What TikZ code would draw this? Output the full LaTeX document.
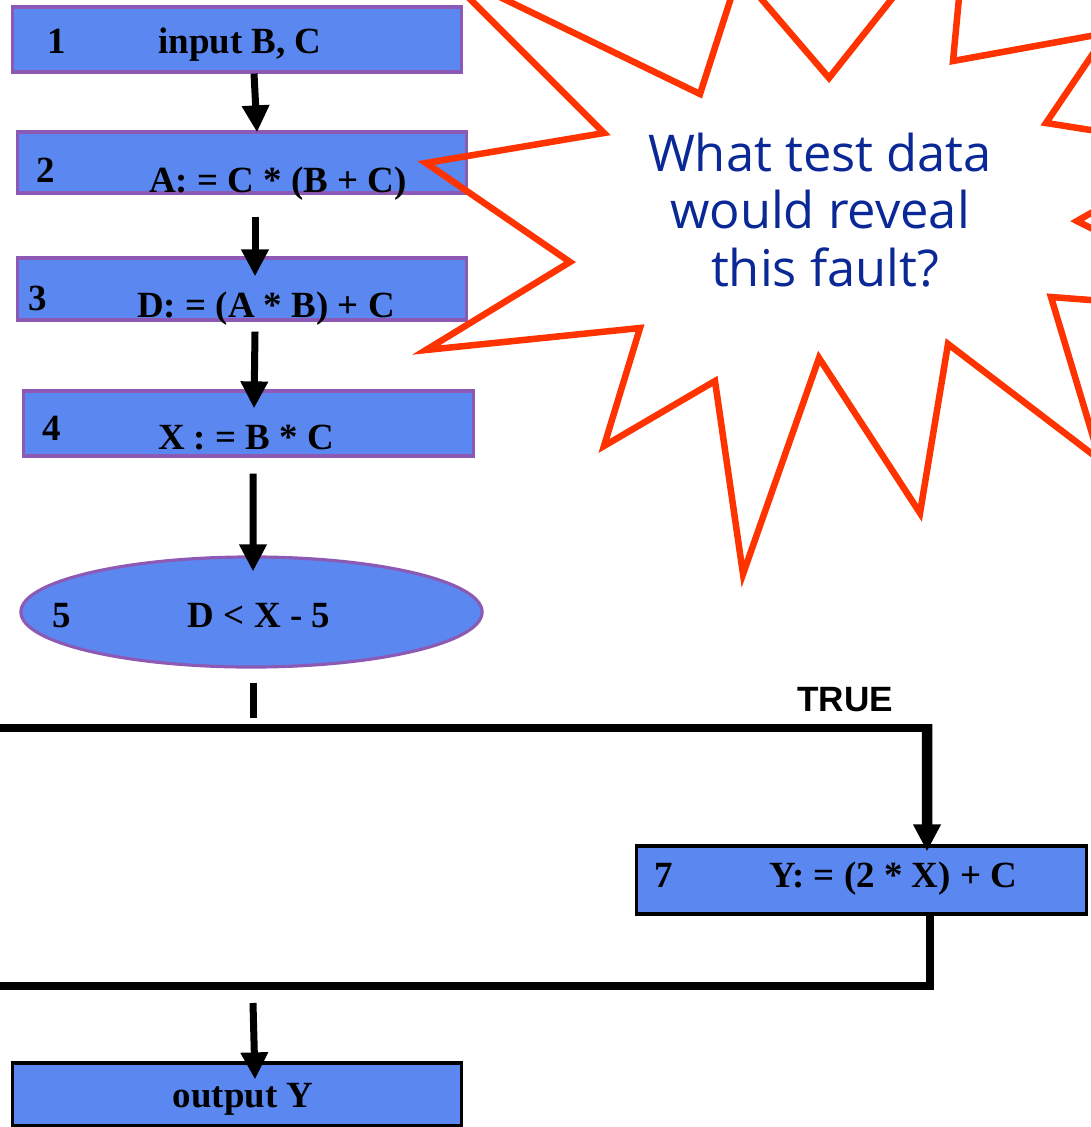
\documentclass[tikz,border=0pt]{standalone}
\usepackage{fontspec}
\setmainfont{Liberation Serif}
\newfontfamily\labelsans{Liberation Sans}
\newfontfamily\bubblefont{Open Sans}
\usetikzlibrary{arrows.meta,shapes.geometric}

\definecolor{boxfill}{RGB}{91,135,240}
\definecolor{boxedge}{RGB}{140,90,180}
\definecolor{burst}{RGB}{255,51,0}
\definecolor{bubbletext}{RGB}{10,40,150}

\begin{document}
\begin{tikzpicture}[x=0.01cm,y=-0.01cm,
  stepbox/.style={draw=boxedge,fill=boxfill,line width=0.9pt,inner sep=0pt},
  darkbox/.style={stepbox,draw=black},
  code/.style={font=\bfseries\fontsize{10.5pt}{12pt}\selectfont,inner sep=0pt,anchor=base},
  flow/.style={line width=0.07cm,-{Triangle[width=0.26cm,length=0.27cm]}},
  wire/.style={line width=0.08cm},
  bubble/.style={font=\bubblefont\fontsize{14.4pt}{17pt}\selectfont,text=bubbletext,inner sep=0pt,anchor=base},
]
\useasboundingbox (0,0) rectangle (1091,1127);
\clip (0,0) rectangle (1091,1127);

% process boxes
\node[stepbox,minimum width=4.48cm,minimum height=0.65cm] (b1) at (237,39.5) {};
\node[stepbox,minimum width=4.48cm,minimum height=0.61cm] (b2) at (242,162.5) {};
\node[stepbox,minimum width=4.48cm,minimum height=0.62cm] (b3) at (242,289) {};
\node[stepbox,minimum width=4.49cm,minimum height=0.65cm] (b4) at (248.5,423.5) {};
\node[stepbox,ellipse,minimum width=4.61cm,minimum height=1.10cm] (b5) at (251.5,612) {};
\node[darkbox,minimum width=4.49cm,minimum height=0.68cm] (b7) at (861.5,880) {};
\node[darkbox,minimum width=4.48cm,minimum height=0.63cm] (bout) at (237,1094.5) {};

% box texts
\node[code] (n1) at (57,53) {1};
\node[code] (t1) at (240,53) {input B, C};
\node[code] (n2) at (46,182) {2};
\node[code] (t2) at (278,192) {A: = C * (B + C)};
\node[code] (n3) at (38,310) {3};
\node[code] (t3) at (266,317) {D: = (A * B) + C};
\node[code] (n4) at (52,440) {4};
\node[code] (t4) at (246,449) {X : = B * C};
\node[code] (n5) at (62,627) {5};
\node[code] (t5) at (259,627) {D < X - 5};
\node[code] (n7) at (664,887) {7};
\node[code] (t7) at (893,887) {Y: = (2 * X) + C};
\node[code] (tout) at (243,1107) {output Y};
\node[font=\labelsans\bfseries\fontsize{10pt}{12pt}\selectfont,inner sep=0pt,anchor=base] (true) at (845,711) {TRUE};

% straight-line flow
\draw[flow] ([xshift=0.17cm]b1.south) -- ([xshift=0.15cm,yshift=-0.02cm]b2.north);
\draw[flow] ([xshift=0.13cm,yshift=-0.22cm]b2.south) -- ([xshift=0.13cm,yshift=-0.20cm]b3.north);
\draw[flow] ([xshift=0.13cm,yshift=-0.10cm]b3.south) -- ([xshift=0.055cm,yshift=-0.19cm]b4.north);
\draw[flow] ([xshift=0.045cm,yshift=-0.16cm]b4.south) -- ([xshift=0.015cm,yshift=-0.16cm]b5.north);
\draw[line width=0.07cm] ([xshift=0.015cm,yshift=-0.14cm]b5.south) -- ([xshift=0.015cm,yshift=-0.49cm]b5.south);

% branch through node 7
\coordinate (loopin) at (-10,728);
\coordinate (bend) at (927,728);
\coordinate (loopout) at (-10,985.5);
\coordinate (join) at (253,1003);
\draw[wire] (loopin) -- ([xshift=0.05cm]bend);
\draw[line width=0.105cm,-{Triangle[width=0.26cm,length=0.27cm]}] ([yshift=0.04cm]bend) -- ([xshift=0.655cm,yshift=-0.07cm]b7.north);
\draw[wire] ([xshift=0.68cm]b7.south) |- (loopout);
\draw[flow] (join) -- ([xshift=0.18cm,yshift=-0.18cm]bout.north);

% starburst callout
\draw[burst,line width=0.065cm,line join=miter]
  (438,-33) -- (700,94) -- (739,-27) -- (829,78) -- (968,-97) -- (953,61)
  -- (1107,33) -- (1046,123) -- (1205,148) -- (1077,221) -- (1260,313)
  -- (1051,297) -- (1100,460) -- (948,344) -- (920,513) -- (819,358)
  -- (743,574) -- (715,381) -- (604,446) -- (640,328) -- (426,350)
  -- (570,262) -- (426,163) -- (604,133) -- cycle;
\node[bubble] (q1) at (820,171) {What test data};
\node[bubble] (q2) at (820,228) {would reveal};
\node[bubble] (q3) at (825,286) {this fault?};
\end{tikzpicture}
\end{document}
